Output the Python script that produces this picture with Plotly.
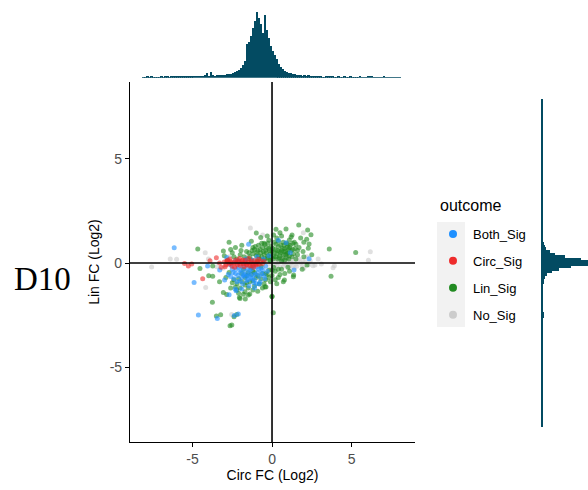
import plotly.graph_objects as go

# ---- scatter points: (Circ FC, Lin FC) in log2 units, one list per outcome ----
no_sig_pts = [
    (-4.2, 0.5), (-6.4, 0.19), (-6.0, 0.18), (-7.57, -0.19), (-4.17, -1.17), (-2.54, -2.47),
    (6.18, 0.54), (6.06, 0.14), (3.92, -0.13), (3.84, -0.23), (2.58, -0.13), (1.97, 1.46),
    (-1.36, 1.68), (-0.59, 1.35), (-3.48, -0.18), (-4.0, 0.2), (-2.7, 0.3), (-3.1, -0.25),
    (0.1, 0.1), (0.3, -0.1), (0.5, 0.15), (0.7, -0.15), (0.9, 0.05), (1.1, -0.2), (1.3, 0.1),
    (1.5, -0.05), (1.7, 0.2), (1.9, -0.15), (2.1, 0.05), (0.2, -0.25), (0.6, 0.25), (1.0, 0.2),
    (1.4, -0.25), (1.8, 0.0), (-0.2, -0.05), (-0.4, 0.1), (-0.6, -0.2), (-0.8, 0.25), (-1.0, 0.05),
    (0.4, 0.0), (0.8, -0.05), (1.2, 0.0), (1.6, 0.1), (2.0, -0.25), (2.4, 0.1), (2.7, -0.1),
    (-1.2, -0.25), (-1.5, 0.35), (0.05, 0.35), (0.9, 0.35), (1.45, 0.3), (2.2, 0.3), (-0.1, -0.3),
    (0.35, 0.15), (0.75, 0.1), (1.15, 0.15), (1.55, -0.15), (1.95, 0.15), (2.3, -0.1), (0.55, -0.2),
    (1.25, -0.1), (-0.3, 0.2), (-0.7, 0.05), (2.9, 0.2), (3.1, -0.05), (0.15, -0.1), (0.95, -0.1),
]
lin_sig_pts = [
    (-4.67, 0.67), (-4.53, -0.26), (-3.73, -0.14), (-3.98, -0.61), (-3.73, -0.64), (-3.75, -1.89),
    (-3.5, -2.55), (-3.23, -2.48), (-2.39, -2.58), (-2.64, -3.01), (-2.53, -2.98), (0.08, -2.39),
    (0.0, -1.59), (3.6, 0.67), (5.26, 0.51), (3.71, -0.63), (1.68, 1.83), (2.24, 1.59), (2.45, 1.36),
    (2.18, 1.14), (2.33, 0.91), (2.28, 0.71), (0.88, 1.63), (1.26, 1.35), (1.09, 1.11), (0.25, 1.62),
    (-0.99, 1.44), (-0.71, 1.23), (1.36, -0.58), (0.78, -0.82), (-0.38, -1.15), (-2.05, -1.65),
    (-1.68, -1.73), (-1.4, -1.49), (-3.06, -1.41), (-2.85, -1.51), (-3.06, 0.58), (-2.22, -1.3),
    (-1.7, -1.38), (-1.49, -1.54), (-2.01, -1.7), (-0.44, -1.14), (0.0, -1.62), (0.71, -0.9),
    (1.34, -0.66), (-2.22, -2.47),
    (1.5, 0.9), (1.8, 1.2), (1.95, 0.55), (1.6, 0.4), (2.0, 0.3), (1.1, 0.75), (0.6, 1.3), (0.4, 1.05),
    (-0.2, 1.1), (-0.5, 0.95), (0.1, 1.35), (0.7, 1.0), (1.3, 0.65), (0.95, 0.45), (-1.2, 0.75),
    (-1.6, 0.55), (-2.0, 0.4), (-2.4, 0.3), (-2.6, 0.65), (-1.9, 0.85), (-1.3, 1.05),
    (-1.4, 0.3), (-1.2, 0.45), (-1.0, 0.35), (-0.9, 0.6), (-0.8, 0.2), (-0.7, 0.5), (-0.6, 0.75),
    (-0.5, 0.4), (-0.4, 0.6), (-0.3, 0.25), (-0.2, 0.7), (-0.1, 0.45), (0.0, 0.55), (0.1, 0.3),
    (0.2, 0.65), (0.3, 0.45), (0.4, 0.8), (0.5, 0.35), (0.6, 0.6), (0.7, 0.4), (0.8, 0.7), (0.9, 0.25),
    (1.0, 0.5), (1.1, 0.35), (1.2, 0.6), (-1.3, 0.15), (-1.1, 0.65), (-0.95, 0.1), (-0.85, 0.85),
    (-0.65, 0.3), (-0.55, 0.15), (-0.45, 0.9), (-0.35, 0.5), (-0.25, 0.35), (-0.15, 0.15),
    (-0.05, 0.8), (0.05, 0.2), (0.15, 0.5), (0.25, 0.9), (0.35, 0.2), (0.45, 0.55), (0.55, 0.85),
    (0.65, 0.2), (0.75, 0.55), (0.85, 0.4), (0.95, 0.75), (1.05, 0.2), (1.15, 0.85), (1.25, 0.3),
    (-1.8, -0.3), (-1.6, -0.6), (-1.4, -0.9), (-1.2, -0.4), (-1.0, -0.7), (-0.8, -1.0), (-0.6, -0.5),
    (-0.4, -0.8), (-0.2, -0.35), (0.0, -0.6), (0.2, -0.4), (0.4, -0.7), (0.6, -0.3), (0.8, -0.5),
    (1.0, -0.2), (-2.4, -0.8), (-2.2, -1.0), (-2.0, -1.2), (-1.9, -0.5), (-1.7, -1.05), (-1.5, -1.2),
    (-1.1, -1.1), (-0.9, -1.35), (-0.7, -0.75), (-0.5, -1.0), (-0.3, -0.55), (-0.1, -0.9), (0.1, -0.2),
    (0.3, -1.0), (0.5, -0.55), (-2.7, -0.45), (-2.9, -0.7), (-3.3, -0.9), (-2.6, -1.2), (-1.3, -0.2),
    (-2.8, 0.15), (-2.5, 0.5), (-2.2, 0.2), (-1.95, 0.6), (-1.75, 0.3), (-1.55, 0.2), (-2.3, 0.75),
    (-3.0, 0.35), (-2.7, 1.0), (1.4, 1.0), (1.7, 0.75), (2.0, 1.0), (1.5, 0.2), (1.2, 1.25),
    (0.5, 1.45), (-0.3, 1.3), (2.5, 0.4), (1.9, -0.3), (1.1, -0.4), (2.2, -0.1),
    (-0.95, 0.5), (-0.75, 0.65), (-0.55, 0.55), (-0.35, 0.75), (-0.15, 0.6), (0.05, 0.7), (0.25, 0.3),
    (0.45, 0.25), (0.65, 0.7), (0.85, 0.55), (1.05, 0.65), (-0.85, 0.35), (-0.65, 0.95), (-0.25, 0.95),
    (0.15, 1.0), (0.35, 0.6), (0.55, 0.5), (0.75, 0.85), (1.35, 0.45), (1.45, 0.7), (-1.05, 0.8),
    (-1.25, 0.6), (-1.45, 0.5), (-0.05, 0.3), (0.3, 1.2), (0.9, 0.95), (1.6, 0.6), (-0.7, -0.15),
    (-0.9, -0.6), (-1.1, -0.45), (-1.3, -0.55), (-1.5, -0.45), (-1.7, -0.7), (-1.9, -0.9), (-2.1, -0.75),
    (-2.3, -1.15), (-1.2, -0.85), (-0.6, -1.2), (-0.4, -0.5), (-0.2, -0.7), (0.0, -0.35), (0.2, -0.8),
    (0.4, -0.3), (-1.6, -0.95), (-2.5, -0.95), (-2.1, -1.45), (-1.8, -1.5), (-1.2, -1.3), (0.6, 0.1),
    (0.8, 0.15), (-0.45, 0.2), (-0.1, 0.1), (1.0, 0.9), (1.3, 0.95),
]
both_sig_pts = [
    (-6.15, 0.74), (-4.9, -0.93), (-4.63, -2.5), (-3.44, -2.66), (-2.37, -2.52), (-2.12, -2.45),
    (-4.05, -0.14), (-1.47, 0.9), (0.88, 0.98), (1.15, 0.5), (1.38, -0.34), (2.33, 0.21),
    (-2.7, -1.52), (-2.31, -1.25), (-2.98, -0.82), (-2.85, 0.27), (-3.29, -0.34), (-2.26, -1.33),
    (-0.8, -1.01), (-2.5, -0.3), (-2.3, -0.5), (-2.1, -0.2), (-1.9, -0.7), (-1.7, -0.4), (-1.5, -0.6),
    (-1.3, -0.3), (-1.1, -0.8), (-0.9, -0.45), (-0.7, -0.25), (-0.5, -0.6), (-2.4, -0.75),
    (-2.2, -0.9), (-2.0, -0.45), (-1.8, -0.15), (-1.6, -0.85), (-1.4, -0.35), (-1.2, -0.55),
    (-1.0, -0.2), (-0.8, -0.65), (-0.6, -0.35), (-0.4, -0.15), (-2.6, -0.1), (-1.85, -1.0),
    (-1.45, -1.1), (-1.15, -0.95), (-2.05, 0.1), (-1.65, 0.2), (-1.25, 0.15), (-0.95, 0.3),
    (-1.75, -0.55), (-1.35, -0.7), (-0.75, -0.9), (-2.15, -0.6), (-1.55, -0.25), (-0.55, 0.2),
    (-0.3, -0.4), (-2.75, -0.55), (-0.2, 0.35), (0.4, 1.1), (-1.9, -1.25), (-1.1, -1.2),
    (-2.45, -0.45), (-2.25, -0.3), (-1.95, -0.35), (-1.65, -0.65), (-1.45, -0.5), (-1.25, -0.75),
    (-1.05, -0.55), (-0.85, -0.3), (-0.65, -0.5), (-2.0, -0.85), (-1.8, -0.6), (-1.5, -0.8),
    (-2.6, -0.65), (-1.0, -1.0), (-0.45, -0.75), (-1.7, 0.1), (-2.3, 0.1), (-1.2, -0.15),
]
circ_sig_pts = [
    (-5.5, -0.02), (-5.26, -0.14), (-5.05, -0.05), (-3.9, 0.11), (-4.36, -0.75), (-2.85, 0.1),
    (-3.0, 0.05), (-2.9, -0.1), (-2.8, 0.12), (-2.7, -0.05), (-2.6, 0.08), (-2.5, -0.15), (-2.4, 0.02),
    (-2.3, 0.15), (-2.2, -0.08), (-2.1, 0.05), (-2.0, -0.12), (-1.9, 0.1), (-1.8, -0.02), (-1.7, 0.14),
    (-1.6, -0.1), (-1.5, 0.04), (-1.4, -0.14), (-1.3, 0.1), (-1.2, -0.04), (-1.1, 0.12), (-1.0, -0.1),
    (-0.9, 0.06), (-0.8, -0.06), (-0.7, 0.1), (-0.6, -0.02), (-2.95, -0.18), (-2.65, 0.2),
    (-2.35, -0.2), (-2.05, 0.22), (-1.75, -0.18), (-1.45, 0.22), (-1.15, -0.2), (-0.85, 0.18),
    (-2.55, 0.0), (-2.25, 0.0), (-1.95, -0.02), (-1.65, 0.0), (-1.35, 0.02), (-1.05, 0.0),
    (-3.3, 0.0), (-3.5, 0.25), (-3.2, -0.2), (-0.5, 0.08), (-2.75, 0.02), (-2.15, 0.1),
    (-1.55, -0.05), (-0.95, -0.05), (-1.85, 0.15), (-1.25, -0.12),
]

outcomes = ["Both_Sig", "Circ_Sig", "Lin_Sig", "No_Sig"]
outcome_colors = {"Both_Sig": "#1E90FF", "Circ_Sig": "#EE2C2C", "Lin_Sig": "#228B22", "No_Sig": "#CCCCCC"}

# ---- marginal histogram of Circ FC (bin width 0.125, starting at -8.125) ----
circ_bin_start = -8.125
circ_bin_width = 0.125
circ_counts = [
    0.7, 0.5, 0.8, 0.5, 1.2, 0.6, 0.5, 0.7, 0.5, 0.8, 0.6, 1.0, 1.3, 0.7, 1.2, 1.0,
    0.8, 1.4, 0.9, 1.0, 1.1, 1.5, 1.3, 1.6, 1.2, 1.4, 1.5, 1.3, 1.8, 1.6, 2.0, 3.0,
    4.5, 2.0, 5.5, 2.5, 1.8, 2.5, 3.0, 2.2, 3.0, 2.8, 3.5, 3.2, 4.0, 4.5, 5.5, 6.5, 8, 10, 13, 17,
    34, 36, 42, 50, 57, 66, 60, 54, 45, 63, 48, 40, 32,
    27, 23, 19, 14, 11, 9, 7, 5.5, 5, 4.5, 4, 3.5, 3, 2.5, 2.5, 2, 2.2, 1.5, 2.5, 2.0, 1.5, 1.2, 1.0, 0.8, 0.8,
    0.7, 0.6, 0.9, 0.8, 1.5, 1.3, 0.7, 0.6, 0.8, 0.5, 0.7, 0.9, 0.6, 0.5, 0.8, 0.6, 0.7, 0.5, 0.6, 0.8,
    0.5, 0.7, 0.6, 0.9, 1.3, 0.8, 0.5, 0.6, 0.7, 0.5, 0.6, 0.8, 0.5, 0.6, 0.7, 0.5, 0.6, 0.5, 0.7, 0.5,
]

# ---- marginal histogram of Lin FC (bin width 0.125, starting at -7.875) ----
lin_bin_start = -7.875
lin_bin_width = 0.125
lin_counts = [
    1.6, 1.7, 1.6, 1.6, 1.7, 1.6, 1.6, 1.7, 1.6, 1.6, 1.6, 1.7, 1.6, 1.6, 1.7, 1.6, 1.6, 1.6, 1.7, 1.6,
    1.6, 1.7, 1.6, 1.6, 1.7, 1.6, 1.6, 1.6, 1.7, 1.6, 1.6, 1.7, 1.6, 1.6, 1.6, 1.7, 1.6, 1.7, 1.6, 1.7,
    1.7, 2.3, 2.7,
    2.7, 1.8, 1.7, 1.8, 1.7, 1.8, 1.8, 1.9, 1.9, 2.0, 2.1, 2.3, 2.7, 3.2, 4, 6, 11, 18, 30, 52,
    60, 40, 24, 14, 9, 5, 3.6, 2.7, 2.3, 2.2, 2.0, 1.9, 1.8,
    1.8, 1.7, 1.7, 1.7, 1.7, 1.6, 1.7, 1.6, 1.6, 1.7, 1.6, 1.6, 1.6, 1.7, 1.6, 1.6, 1.6, 1.6, 1.7, 1.6,
    1.6, 1.6, 1.6, 1.7, 1.6, 1.6, 1.6, 1.6, 1.6, 1.7, 1.6, 1.6, 1.6, 1.6, 1.6, 1.6, 1.7, 1.6, 1.6, 1.6,
    1.6, 1.6, 1.6, 1.6, 1.6, 1.6, 1.6, 1.6, 1.6, 1.6,
]

hist_color = "#034B62"
font_family = "Liberation Sans, Arial, sans-serif"

fig = go.Figure()

# main scatter, drawn back to front
for name, pts in [("No_Sig", no_sig_pts), ("Lin_Sig", lin_sig_pts),
                  ("Both_Sig", both_sig_pts), ("Circ_Sig", circ_sig_pts)]:
    fig.add_trace(go.Scatter(
        x=[p[0] for p in pts], y=[p[1] for p in pts], mode="markers",
        marker=dict(size=5, color=outcome_colors[name], opacity=0.6, line=dict(width=0)),
        name=name, showlegend=False, xaxis="x", yaxis="y", hoverinfo="skip",
    ))

# legend entries
for name in outcomes:
    fig.add_trace(go.Scatter(
        x=[None], y=[None], mode="markers",
        marker=dict(size=8, color=outcome_colors[name]),
        name=name, legendgroup=name, showlegend=True, xaxis="x", yaxis="y",
    ))

# top marginal histogram
circ_centers = [circ_bin_start + circ_bin_width * (i + 0.5) for i in range(len(circ_counts))]
fig.add_trace(go.Bar(
    x=circ_centers, y=circ_counts, width=circ_bin_width,
    marker=dict(color=hist_color, line=dict(width=0)),
    showlegend=False, xaxis="x2", yaxis="y2", hoverinfo="skip",
))

# right marginal histogram
lin_centers = [lin_bin_start + lin_bin_width * (i + 0.5) for i in range(len(lin_counts))]
fig.add_trace(go.Bar(
    y=lin_centers, x=lin_counts, width=lin_bin_width, orientation="h",
    marker=dict(color=hist_color, line=dict(width=0)),
    showlegend=False, xaxis="x3", yaxis="y3", hoverinfo="skip",
))

W, H = 588, 490
def px_x(p):
    return p / W
def px_y(p):
    return 1 - p / H

main_xdom = [px_x(130), px_x(415)]
main_ydom = [px_y(442), px_y(82)]
x_range = [-8.93, 8.99]
y_range = [-8.6, 8.7]

axis_common = dict(
    showgrid=False, zeroline=False, showline=True, linecolor="black", linewidth=1.2,
    ticks="outside", ticklen=4, tickcolor="black", tickwidth=1.2,
    tickvals=[-5, 0, 5], ticktext=["-5", "0", "5"],
    tickfont=dict(size=14, color="#4D4D4D", family=font_family),
    automargin=False,
)

fig.update_layout(
    width=W, height=H, margin=dict(l=0, r=0, t=0, b=0),
    paper_bgcolor="white", plot_bgcolor="white", template="none",
    font=dict(family=font_family, color="black"),
    xaxis=dict(domain=main_xdom, range=x_range, anchor="y",
               title=dict(text="Circ FC (Log2)", font=dict(size=14, color="black"), standoff=3),
               **axis_common),
    yaxis=dict(domain=main_ydom, range=y_range, anchor="x",
               title=dict(text="Lin FC (Log2)", font=dict(size=14, color="black"), standoff=6),
               **axis_common),
    xaxis2=dict(domain=main_xdom, matches="x", anchor="y2", visible=False),
    yaxis2=dict(domain=[px_y(77.7), px_y(11)], range=[0, 66.5], anchor="x2", visible=False),
    xaxis3=dict(domain=[px_x(541), 1.0], range=[0, 47], anchor="y3", visible=False),
    yaxis3=dict(domain=main_ydom, matches="y", anchor="x3", visible=False),
    bargap=0,
    legend=dict(
        x=px_x(433), y=px_y(219), xanchor="left", yanchor="top",
        font=dict(size=13, color="black"), tracegroupgap=7,
        bgcolor="rgba(0,0,0,0)", itemclick=False, itemdoubleclick=False,
    ),
    shapes=[
        # reference lines through the origin
        dict(type="line", xref="x", yref="y domain", x0=0, x1=0, y0=0, y1=1,
             line=dict(color="black", width=1.6), layer="above"),
        dict(type="line", xref="x domain", yref="y", x0=0, x1=1, y0=0, y1=0,
             line=dict(color="black", width=1.6), layer="above"),
        # grey panel behind legend keys
        dict(type="rect", xref="paper", yref="paper",
             x0=px_x(437), x1=px_x(465), y0=px_y(327), y1=px_y(222),
             fillcolor="#F2F2F2", line=dict(width=0), layer="below"),
    ],
    annotations=[
        dict(text="outcome", xref="paper", yref="paper", x=px_x(438), y=px_y(205),
             xanchor="left", yanchor="middle", showarrow=False,
             font=dict(size=16, color="black", family=font_family)),
        dict(text="D10", xref="paper", yref="paper", x=px_x(42), y=px_y(279),
             xanchor="center", yanchor="middle", showarrow=False,
             font=dict(family="Liberation Serif, Times New Roman, serif", size=33, color="black")),
    ],
)

fig.write_html("out.html")
